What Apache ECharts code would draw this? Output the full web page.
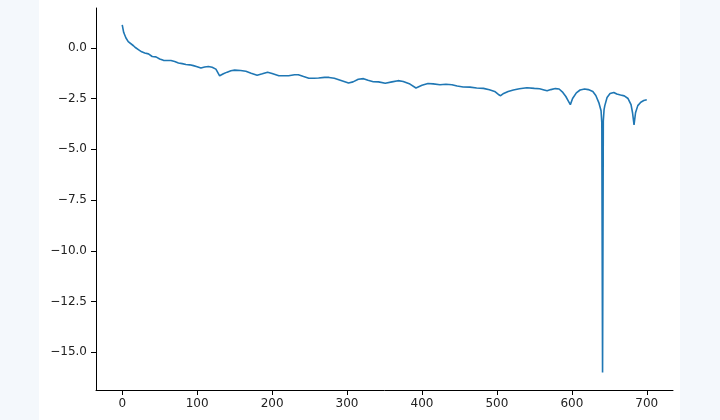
<!DOCTYPE html>
<html>
<head>
<meta charset="utf-8">
<script src="https://cdn.jsdelivr.net/npm/echarts@6/dist/echarts.min.js"></script>
<style>
  html, body { margin: 0; padding: 0; background: #f4f8fc; }
  #chart { width: 720px; height: 420px;
    background: linear-gradient(to right, #f4f8fc 39px, #ffffff 39px, #ffffff 680px, #f4f8fc 680px); }
</style>
</head>
<body>
<div id="chart"></div>
<script>
const xValues = [0, 2, 5, 8, 10, 15, 18, 22, 26, 30, 35, 40, 45, 50, 55, 60, 65, 70, 75, 80, 85, 90, 95, 100,
  105, 110, 115, 120, 125, 130, 135, 140, 145, 150, 158, 165, 172, 180, 187, 194, 200, 209, 215, 222, 230, 235,
  242, 249, 256, 262, 270, 276, 283, 289, 296, 302, 308, 315, 322, 328, 335, 342, 351, 360, 368, 375, 384, 392,
  400, 408, 415, 424, 432, 440, 447, 455, 464, 473, 482, 490, 497, 502, 505, 509, 515, 522, 530, 540, 550, 557,
  563, 567, 572, 578, 583, 588, 592, 595, 598, 601, 606, 611, 617, 622, 628, 632, 636, 639, 640, 641, 642, 643,
  644, 647, 651, 656, 660, 665, 670, 675, 679, 681, 683, 685, 688, 692, 696, 700];
const yValues = [1.13, 0.75, 0.48, 0.3, 0.23, 0.1, 0.0, -0.1, -0.2, -0.26, -0.3, -0.43, -0.45, -0.55, -0.62, -0.63,
  -0.63, -0.68, -0.75, -0.78, -0.82, -0.84, -0.88, -0.93, -1.0, -0.95, -0.92, -0.96, -1.05, -1.38, -1.28, -1.2,
  -1.13, -1.1, -1.12, -1.16, -1.25, -1.35, -1.28, -1.2, -1.27, -1.38, -1.38, -1.38, -1.33, -1.33, -1.42, -1.5,
  -1.5, -1.49, -1.46, -1.46, -1.5, -1.57, -1.66, -1.74, -1.68, -1.55, -1.52, -1.6, -1.67, -1.68, -1.75, -1.68,
  -1.62, -1.66, -1.79, -1.98, -1.85, -1.76, -1.78, -1.82, -1.8, -1.82, -1.88, -1.93, -1.94, -1.98, -2.0, -2.07,
  -2.15, -2.3, -2.36, -2.25, -2.15, -2.08, -2.02, -1.97, -2.0, -2.02, -2.08, -2.12, -2.06, -2.01, -2.03, -2.2,
  -2.4, -2.6, -2.8, -2.5, -2.22, -2.08, -2.03, -2.06, -2.15, -2.35, -2.7, -3.1, -3.7, -16.0, -3.6, -3.05,
  -2.85, -2.45, -2.25, -2.2, -2.28, -2.33, -2.37, -2.5, -2.8, -3.2, -3.8, -3.2, -2.85, -2.68, -2.6, -2.56];
const xTicks = [0, 100, 200, 300, 400, 500, 600, 700];
const yTicks = [0, -2.5, -5, -7.5, -10, -12.5, -15];

const seriesData = xValues.map((x, i) => [x, yValues[i]]);
const fmt = v => (v < 0 ? '\u2212' : '') + Math.abs(v).toFixed(1);

const chart = echarts.init(document.getElementById('chart'));
chart.setOption({
  animation: false,
  backgroundColor: 'transparent',
  grid: { left: 96, right: 47, top: 8, bottom: 30, containLabel: false },
  xAxis: {
    type: 'value', min: -35, max: 735,
    axisLine: { show: true, onZero: false, lineStyle: { color: '#000', width: 1 } },
    axisTick: { show: true, length: 5, customValues: xTicks, lineStyle: { color: '#000' } },
    axisLabel: { customValues: xTicks, color: '#222', fontFamily: 'DejaVu Sans', fontSize: 12, margin: 8,
      formatter: v => String(v) },
    splitLine: { show: false }
  },
  yAxis: {
    type: 'value', min: -16.86, max: 1.96,
    axisLine: { show: true, onZero: false, lineStyle: { color: '#000', width: 1 } },
    axisTick: { show: true, length: 5, customValues: yTicks, lineStyle: { color: '#000' } },
    axisLabel: { customValues: yTicks, color: '#222', fontFamily: 'DejaVu Sans', fontSize: 12, margin: 9,
      formatter: v => fmt(v) },
    splitLine: { show: false }
  },
  series: [{
    type: 'line', data: seriesData, showSymbol: false, smooth: false,
    lineStyle: { color: '#1f77b4', width: 1.6 }, itemStyle: { color: '#1f77b4' }
  }]
});
</script>
</body>
</html>
